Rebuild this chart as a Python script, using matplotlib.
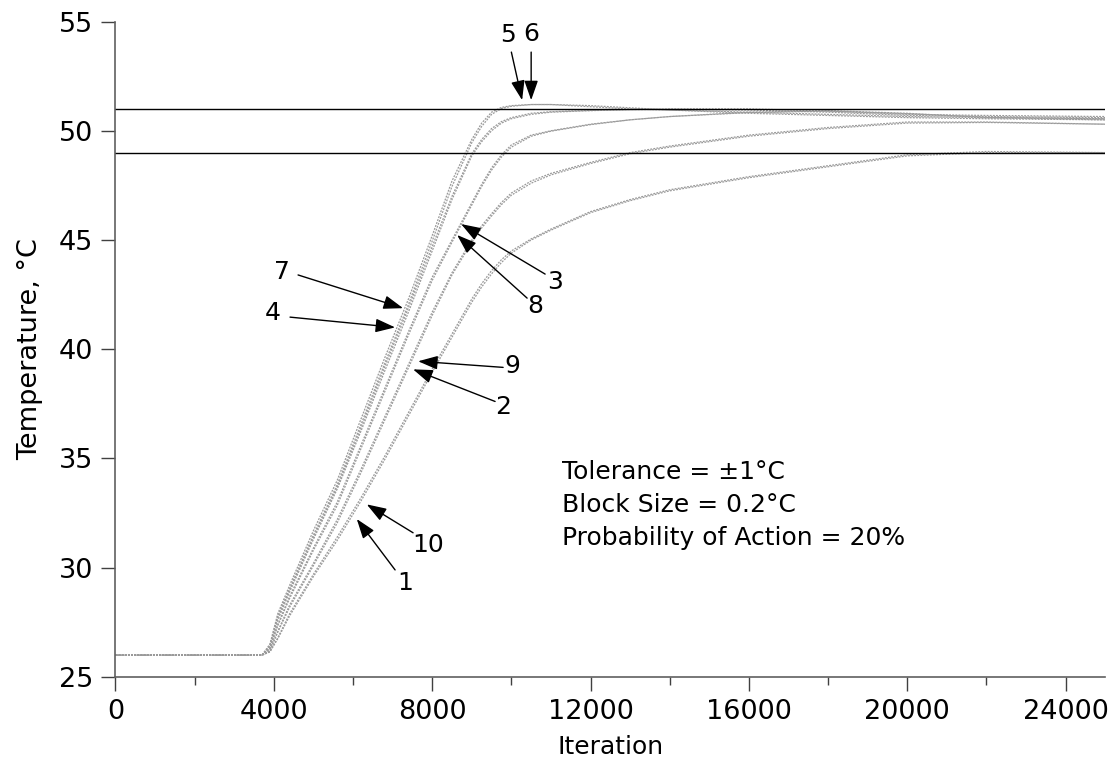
import matplotlib
matplotlib.use("Agg")
import matplotlib.pyplot as plt

# iteration grid
iters = [0, 3700, 3900, 4100, 4400, 5000, 5600, 6200, 6800, 7400, 8000, 8500, 9000, 9250,
         9500, 9750, 10000, 10500, 11000, 12000, 13000, 14000, 16000, 18000, 20000, 22000, 25000]

# temperature for each run
run5 = [26.0, 26.0, 26.5, 27.9, 29.2, 31.7, 34.0, 36.8, 39.6, 42.3, 45.2, 47.7, 49.6, 50.35,
        50.85, 51.07, 51.15, 51.2, 51.2, 51.1, 51.0, 50.95, 50.85, 50.75, 50.65, 50.6, 50.55]
run6 = [26.0, 26.0, 26.45, 27.8, 29.05, 31.5, 33.8, 36.55, 39.35, 42.05, 44.95, 47.45, 49.45, 50.2,
        50.75, 51.02, 51.12, 51.2, 51.2, 51.15, 51.05, 50.95, 50.8, 50.7, 50.6, 50.55, 50.5]
run4 = [26.0, 26.0, 26.4, 27.7, 29.0, 31.4, 33.7, 36.4, 39.2, 41.9, 44.7, 47.0, 48.95, 49.6,
        50.1, 50.42, 50.6, 50.8, 50.87, 50.93, 50.97, 51.0, 51.0, 50.9, 50.75, 50.7, 50.65]
run7 = [26.0, 26.0, 26.35, 27.6, 28.9, 31.3, 33.6, 36.25, 39.0, 41.7, 44.5, 46.85, 48.85, 49.5,
        50.0, 50.35, 50.55, 50.75, 50.85, 50.92, 50.97, 50.98, 50.95, 50.85, 50.7, 50.65, 50.6]
run3 = [26.0, 26.0, 26.3, 27.4, 28.7, 30.9, 33.0, 35.6, 38.2, 40.8, 43.3, 45.0, 46.7, 47.55,
        48.3, 48.9, 49.35, 49.8, 50.0, 50.3, 50.5, 50.65, 50.85, 50.92, 50.8, 50.6, 50.5]
run8 = [26.0, 26.0, 26.3, 27.35, 28.6, 30.8, 32.85, 35.45, 38.05, 40.65, 43.15, 44.9, 46.6, 47.45,
        48.2, 48.8, 49.25, 49.75, 49.98, 50.28, 50.5, 50.65, 50.83, 50.9, 50.78, 50.62, 50.55]
run2 = [26.0, 26.0, 26.2, 27.1, 28.3, 30.2, 32.2, 34.5, 36.9, 39.3, 41.7, 43.5, 45.0, 45.65,
        46.2, 46.72, 47.15, 47.7, 48.05, 48.55, 49.0, 49.3, 49.8, 50.15, 50.4, 50.4, 50.3]
run9 = [26.0, 26.0, 26.2, 27.05, 28.2, 30.1, 32.05, 34.35, 36.75, 39.15, 41.55, 43.4, 44.9, 45.55,
        46.1, 46.62, 47.05, 47.6, 47.98, 48.5, 48.95, 49.25, 49.75, 50.1, 50.35, 50.38, 50.3]
run1 = [26.0, 26.0, 26.15, 26.8, 27.9, 29.7, 31.4, 33.2, 35.1, 37.1, 39.1, 40.7, 42.3, 43.0,
        43.6, 44.1, 44.5, 45.05, 45.5, 46.3, 46.85, 47.3, 47.9, 48.4, 48.9, 49.05, 49.0]
run10 = [26.0, 26.0, 26.15, 26.75, 27.8, 29.6, 31.25, 33.05, 34.95, 36.95, 38.95, 40.55, 42.15, 42.85,
         43.45, 43.97, 44.4, 45.0, 45.45, 46.25, 46.8, 47.25, 47.85, 48.35, 48.85, 49.0, 49.0]

runs = [run1, run2, run3, run4, run5, run6, run7, run8, run9, run10]

# tolerance band
set_point = 50
tol = 1

# label text, text position, arrow tail, arrow tip
labels = [
    ("5", (9920, 54.4), (10000, 53.6), (10272, 51.4)),
    ("6", (10500, 54.45), (10500, 53.6), (10500, 51.4)),
    ("7", (4210, 43.55), (4612, 43.4), (7265, 41.88)),
    ("4", (3980, 41.65), (4409, 41.47), (7063, 41.0)),
    ("3", (11105, 43.07), (10853, 43.44), (8730, 45.73)),
    ("8", (10600, 41.97), (10398, 42.34), (8629, 45.23)),
    ("9", (10019, 39.22), (9792, 39.17), (7644, 39.45)),
    ("2", (9792, 37.34), (9589, 37.61), (7517, 39.08)),
    ("10", (7896, 31.06), (7517, 31.6), (6347, 32.9)),
    ("1", (7315, 29.31), (7063, 29.9), (6095, 32.23)),
]

plt.rcParams['font.family'] = ['DejaVu Sans']

fig = plt.figure(figsize=(11.17, 7.68), dpi=100)
ax = fig.add_axes([0.1034, 0.1185, 0.886, 0.8535])

for r in runs:
    ax.plot(iters, r, color='#9a9a9a', lw=0.9, ls=(0, (1.5, 1.0)))

ax.axhline(set_point + tol, color='k', lw=1.0)
ax.axhline(set_point - tol, color='k', lw=1.0)

for txt, tpos, tail, tip in labels:
    ax.text(tpos[0], tpos[1], txt, fontsize=18, ha='center', va='center')
    ax.annotate('', xy=tip, xytext=tail,
                arrowprops=dict(arrowstyle='-|>,head_length=1.2,head_width=0.42',
                                color='k', lw=1.0, shrinkA=0, shrinkB=0))

ax.text(11280, 34.08, "Tolerance = \u00b11\u00b0C", fontsize=18)
ax.text(11280, 32.55, "Block Size = 0.2\u00b0C", fontsize=18)
ax.text(11280, 31.05, "Probability of Action = 20%", fontsize=18)

ax.set_xlim(0, 25000)
ax.set_ylim(25, 55)
ax.set_xticks(range(0, 25000, 4000))
ax.set_xticks(range(2000, 25000, 4000), minor=True)
ax.set_yticks(range(25, 56, 5))

for s in ['top', 'right']:
    ax.spines[s].set_visible(False)
for s in ['left', 'bottom']:
    ax.spines[s].set_color('#606060')
    ax.spines[s].set_linewidth(1.2)

ax.tick_params(which='major', length=10, width=1, color='#404040', labelsize=19.5, pad=6)
ax.tick_params(which='minor', length=6, width=1, color='#404040')

ax.set_xlabel("Iteration", fontsize=18, labelpad=7)
ax.set_ylabel("Temperature, \u00b0C", fontsize=19.5, labelpad=11)

fig.savefig("out.png", dpi=100)
